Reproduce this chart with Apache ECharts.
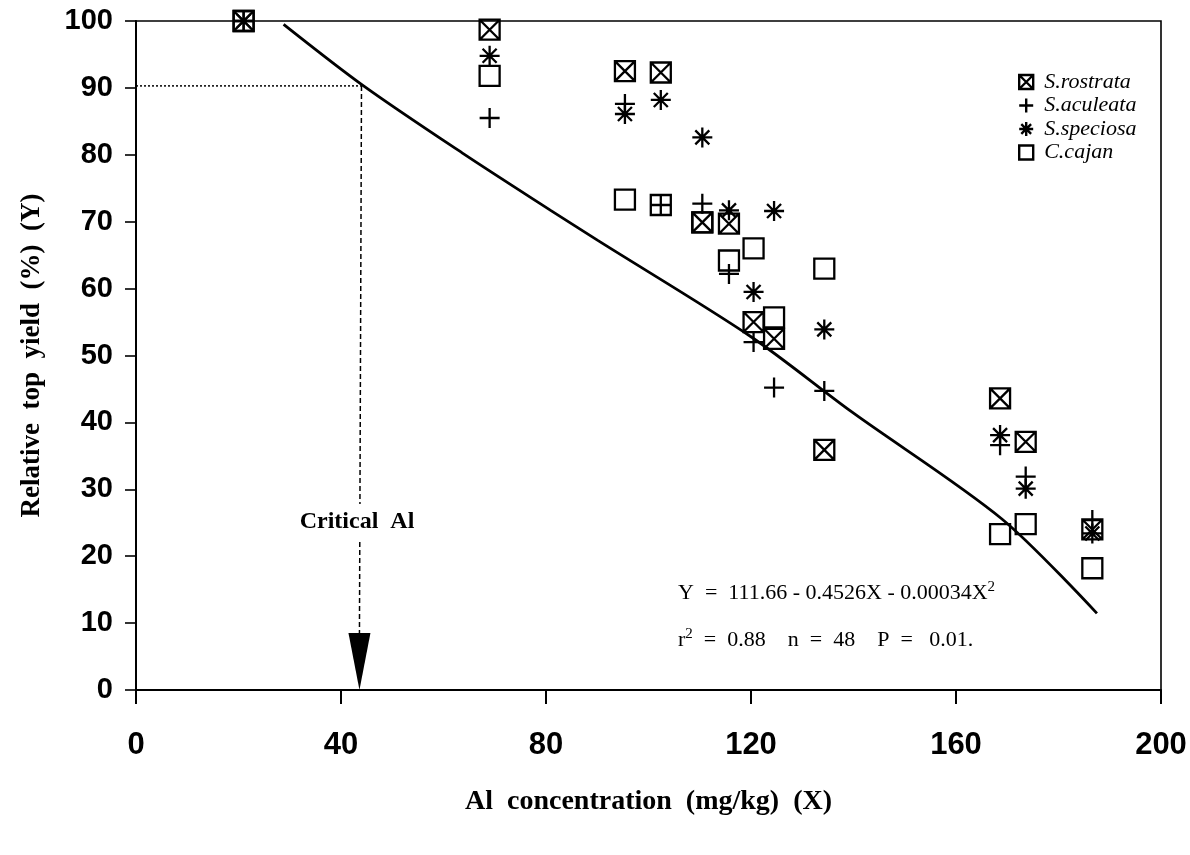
<!DOCTYPE html>
<html>
<head>
<meta charset="utf-8">
<title>Relative top yield vs Al concentration</title>
<script src="https://cdn.jsdelivr.net/npm/echarts@6/dist/echarts.min.js"></script>
<style>
    html, body { margin: 0; padding: 0; background: #fff; }
    #main-chart { width: 1190px; height: 855px; }
</style>
</head>
<body>
<div id="main-chart"></div>
<script>
// Al levels (mg/kg), shared by the four species
const alLevels = [21, 69, 95.4, 102.4, 110.5, 115.7, 120.5, 124.5, 134.3, 168.6, 173.6, 186.6];

// relative top yield (%)
const rostrata = [100, 98.7, 92.5, 92.3, 69.9, 69.7, 55, 52.5, 35.9, 43.6, 37.1, 24];
const aculeata = [100, 85.5, 87.6, 72.5, 72.7, 62.2, 52, 45.2, 44.7, 36.6, 31.9, 25.4];
const speciosa = [100, 94.8, 86.1, 88.2, 82.6, 71.7, 59.5, 71.6, 53.9, 38.1, 30.1, 23.4];
const cajan = [100, 91.8, 73.3, 72.5, 69.9, 64.2, 66, 55.7, 63, 23.3, 24.8, 18.2];

// fitted curve
const fitX = [28.8, 44.4, 64, 80.9, 90.1, 120, 139.6, 168.9, 187.5];
const fitY = [99.5, 90.3, 80.1, 71.7, 67.2, 52.8, 41.6, 25.6, 11.45];

// critical Al point (90 % yield)
const criticalX = 43.6;
const criticalY = 90.3;
const arrowTopY = 8.5;

const xTicks = [0, 40, 80, 120, 160, 200];
const yTicks = [0, 10, 20, 30, 40, 50, 60, 70, 80, 90, 100];

const speciesNames = ['S.rostrata', 'S.aculeata', 'S.speciosa', 'C.cajan'];

const symbols = {
    'S.rostrata': 'path://M0,0H10V10H0Z M0,0L10,10 M10,0L0,10',
    'S.aculeata': 'path://M5,0V10 M0,5H10',
    'S.speciosa': 'path://M5,0V10 M0,5H10 M1.5,1.5L8.5,8.5 M8.5,1.5L1.5,8.5',
    'C.cajan': 'path://M0,0H10V10H0Z'
};

const serif = '"Liberation Serif", "DejaVu Serif", serif';
const sans = '"Liberation Sans", Arial, sans-serif';

const mainChart = echarts.init(document.getElementById('main-chart'));

function pairs(xs, ys) {
    return xs.map(function (x, i) {
        return [x, ys[i]];
    });
}

function speciesSeries(name, values) {
    return {
        name: name,
        type: 'scatter',
        data: pairs(alLevels, values),
        symbol: symbols[name],
        symbolSize: 20,
        itemStyle: {color: 'rgba(0,0,0,0)', borderColor: '#000', borderWidth: 2.3, opacity: 1},
        z: 5
    };
}

const option = {
    backgroundColor: '#fff',
    animation: false,
    grid: {
        left: 136, right: 29, top: 21, bottom: 165,
        show: true, borderColor: '#000', borderWidth: 1.6
    },
    legend: {
        orient: 'vertical',
        left: 1013,
        top: 66,
        itemWidth: 14,
        itemHeight: 14,
        itemGap: 1.5,
        selectedMode: false,
        textStyle: {fontFamily: serif, fontStyle: 'italic', fontSize: 22, color: '#000', lineHeight: 22, padding: [0, 0, 0, 6]},
        data: speciesNames.map(function (n) {
            return {name: n, icon: symbols[n], itemStyle: {color: 'rgba(0,0,0,0)', borderColor: '#000', borderWidth: 2.4}};
        })
    },
    xAxis: {
        type: 'value',
        min: 0, max: 200, interval: 40,
        name: 'Al  concentration  (mg/kg)  (X)',
        nameLocation: 'middle',
        nameGap: 98,
        nameTextStyle: {fontFamily: serif, fontWeight: 'bold', fontSize: 28, color: '#000'},
        axisLine: {lineStyle: {color: '#000', width: 2}},
        axisTick: {show: true, inside: false, length: 14, lineStyle: {color: '#000', width: 2}},
        axisLabel: {
            margin: 40, color: '#000', fontFamily: sans, fontWeight: 'bold', fontSize: 31,
            formatter: function (v) { return xTicks.indexOf(v) >= 0 ? String(v) : ''; }
        },
        splitLine: {show: false}
    },
    yAxis: {
        type: 'value',
        min: 0, max: 100, interval: 10,
        name: 'Relative  top  yield  (%)  (Y)',
        nameLocation: 'middle',
        nameGap: 90,
        nameTextStyle: {fontFamily: serif, fontWeight: 'bold', fontSize: 27, color: '#000'},
        axisLine: {lineStyle: {color: '#000', width: 2}},
        axisTick: {show: true, inside: false, length: 11, lineStyle: {color: '#000', width: 1.6}},
        axisLabel: {
            margin: 23, color: '#000', fontFamily: sans, fontWeight: 'bold', fontSize: 29,
            formatter: function (v) { return yTicks.indexOf(v) >= 0 ? String(v) : ''; }
        },
        splitLine: {show: false}
    },
    series: [
        {
            name: 'fit',
            type: 'line',
            data: pairs(fitX, fitY),
            symbol: 'none',
            smooth: 0.3,
            lineStyle: {color: '#000', width: 2.8},
            silent: true,
            z: 3
        },
        {
            name: 'critical-h',
            type: 'line',
            data: [[0, criticalY], [criticalX + 0.8, criticalY]],
            symbol: 'none',
            lineStyle: {color: '#000', width: 1.5, type: [2, 2]},
            silent: true,
            z: 2
        },
        {
            name: 'critical-v',
            type: 'line',
            data: [[criticalX + 0.4, criticalY], [criticalX, arrowTopY]],
            symbol: 'none',
            lineStyle: {color: '#000', width: 1.5, type: [5, 3]},
            silent: true,
            z: 2
        },
        {
            name: 'arrow',
            type: 'scatter',
            data: [[criticalX, arrowTopY / 2]],
            symbol: 'path://M0,0L20,0L10,52Z',
            symbolSize: [22, 57],
            itemStyle: {color: '#000', opacity: 1},
            silent: true,
            z: 4
        },
        speciesSeries('S.rostrata', rostrata),
        speciesSeries('S.aculeata', aculeata),
        speciesSeries('S.speciosa', speciosa),
        speciesSeries('C.cajan', cajan)
    ],
    graphic: [
        {
            type: 'text',
            x: 357, y: 522, z: 100,
            style: {
                text: 'Critical  Al',
                font: 'bold 24px ' + serif,
                fill: '#000',
                align: 'center',
                verticalAlign: 'middle',
                backgroundColor: '#fff',
                padding: [6, 4]
            }
        },
        {
            type: 'text',
            x: 678, y: 593, z: 100,
            style: {
                text: '{t|Y  =  111.66 - 0.4526X - 0.00034X}{s|2}',
                verticalAlign: 'middle',
                rich: {
                    t: {fontFamily: serif, fontSize: 22, color: '#000'},
                    s: {fontFamily: serif, fontSize: 15, color: '#000', padding: [0, 0, 12, 0]}
                }
            }
        },
        {
            type: 'text',
            x: 678, y: 640, z: 100,
            style: {
                text: '{t|r}{s|2}{t|  =  0.88    n  =  48    P  =   0.01.}',
                verticalAlign: 'middle',
                rich: {
                    t: {fontFamily: serif, fontSize: 22, color: '#000'},
                    s: {fontFamily: serif, fontSize: 15, color: '#000', padding: [0, 0, 12, 0]}
                }
            }
        }
    ]
};

mainChart.setOption(option);
</script>
</body>
</html>
